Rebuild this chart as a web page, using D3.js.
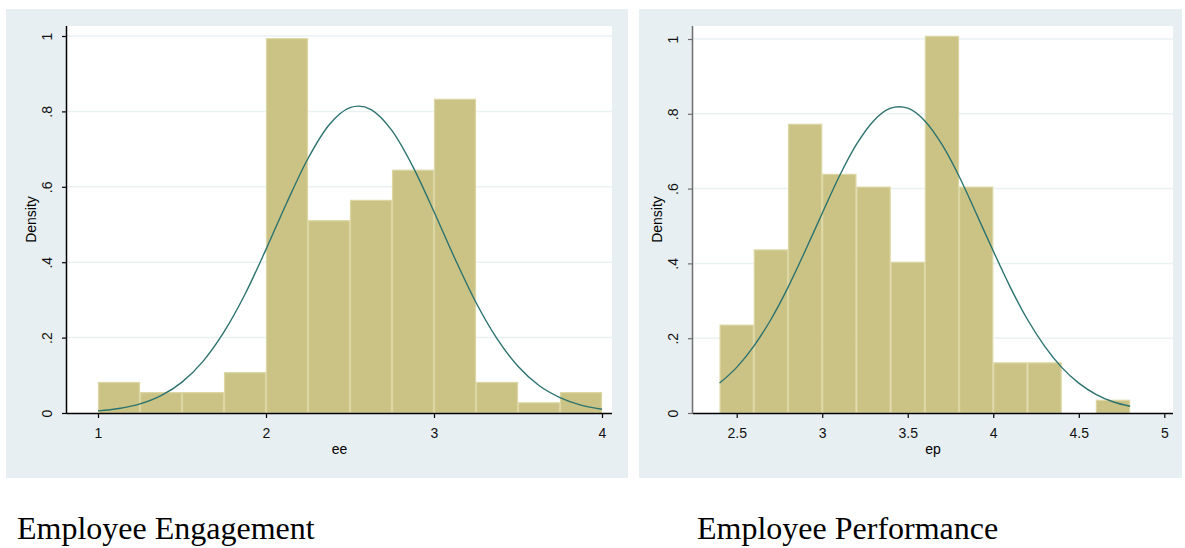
<!DOCTYPE html>
<html>
<head>
<meta charset="utf-8">
<script src="https://cdn.jsdelivr.net/npm/d3@7"></script>
<style>
  body { margin: 0; background: #fff; }
  .tick text { font-family: "Liberation Sans", Arial, sans-serif; font-size: 14px; fill: #111; }
</style>
</head>
<body>
<div class="hists"></div>
<script>
// --- data: Employee Engagement (ee), bin width .25 ---
var eeBins = [1, 1.25, 1.5, 1.75, 2, 2.25, 2.5, 2.75, 3, 3.25, 3.5, 3.75, 4];
var eeDensity = [0.081, 0.054, 0.054, 0.107, 0.993, 0.510, 0.564, 0.644, 0.832, 0.081, 0.027, 0.054];
// normal overlay
var eeCurveX = [1, 1.125, 1.25, 1.375, 1.5, 1.625, 1.75, 1.875, 2, 2.125, 2.25, 2.375, 2.5, 2.55, 2.625, 2.75, 2.875, 3, 3.125, 3.25, 3.375, 3.5, 3.625, 3.75, 3.875, 4];
var eeCurveY = [0.0055, 0.012, 0.024, 0.046, 0.082, 0.137, 0.215, 0.315, 0.434, 0.559, 0.675, 0.764, 0.810, 0.814, 0.805, 0.749, 0.653, 0.534, 0.409, 0.293, 0.197, 0.124, 0.073, 0.041, 0.021, 0.010];
var eeTicks = [1, 2, 3, 4];

// --- data: Employee Performance (ep), bin width .2 ---
var epBins = [2.4, 2.6, 2.8, 3.0, 3.2, 3.4, 3.6, 3.8, 4.0, 4.2, 4.4, 4.6, 4.8];
var epDensity = [0.235, 0.436, 0.772, 0.638, 0.604, 0.403, 1.007, 0.604, 0.134, 0.134, 0, 0.034];
var epCurveX = [2.4, 2.5, 2.6, 2.7, 2.8, 2.9, 3.0, 3.1, 3.2, 3.3, 3.4, 3.45, 3.5, 3.6, 3.7, 3.8, 3.9, 4.0, 4.1, 4.2, 4.3, 4.4, 4.5, 4.6, 4.7, 4.8];
var epCurveY = [0.080, 0.122, 0.179, 0.250, 0.336, 0.433, 0.534, 0.633, 0.718, 0.781, 0.815, 0.819, 0.815, 0.781, 0.718, 0.633, 0.534, 0.433, 0.336, 0.250, 0.179, 0.122, 0.080, 0.050, 0.030, 0.018];
var epTicks = [2.5, 3, 3.5, 4, 4.5, 5];

var yTicks = [0, 0.2, 0.4, 0.6, 0.8, 1];
var yTickLabels = ["0", ".2", ".4", ".6", ".8", "1"];

var Width = 1185, Height = 548;

var svg = d3.select(".hists").append("svg")
    .attr("width", Width)
    .attr("height", Height);

// draw one stata-style histogram panel
function drawPanel(p) {
  // grey-blue graph region
  svg.append("rect")
    .attr("x", p.bg[0]).attr("y", 9)
    .attr("width", p.bg[1] - p.bg[0]).attr("height", 469)
    .attr("fill", "#e8eff2");

  // white plot region
  svg.append("rect")
    .attr("x", p.left).attr("y", 26)
    .attr("width", p.right - p.left).attr("height", 413 - 26)
    .attr("fill", "#fff");

  var x = d3.scaleLinear().domain(p.xDomain).range(p.xRange);
  var y = d3.scaleLinear().domain([0, 1]).range([413, p.yTop]);

  var g = svg.append("g");

  // gridlines
  g.selectAll(".grid").data(yTicks.slice(1))
    .enter().append("line")
    .attr("x1", p.left).attr("x2", p.right)
    .attr("y1", d => y(d)).attr("y2", d => y(d))
    .attr("stroke", "#eaf1f3").attr("stroke-width", 1.5);

  // bars
  var bars = p.density.map(function(d, i) { return {x0: p.bins[i], x1: p.bins[i + 1], v: d}; })
    .filter(d => d.v > 0);
  g.selectAll(".bar").data(bars)
    .enter().append("rect")
    .attr("x", d => x(d.x0) + 0.5)
    .attr("y", d => y(d.v))
    .attr("width", d => x(d.x1) - x(d.x0) - 1)
    .attr("height", d => 413 - y(d.v))
    .attr("fill", "#cbc385")
    .attr("stroke", "#dcd6a4")
    .attr("stroke-width", 1.2);

  // normal density line
  var line = d3.line()
    .curve(d3.curveMonotoneX)
    .x(d => x(d[0]))
    .y(d => y(d[1]));
  g.append("path")
    .datum(p.curveX.map((d, i) => [d, p.curveY[i]]))
    .attr("fill", "none")
    .attr("stroke", "#2c736f")
    .attr("stroke-width", 1.4)
    .attr("d", line);

  // x axis
  var xAxis = g.append("g")
    .attr("transform", "translate(0,413)")
    .call(d3.axisBottom(x).tickValues(p.xTicks).tickSize(5).tickPadding(10)
      .tickFormat(d => String(d)));
  xAxis.select(".domain").attr("d", "M" + p.left + ",0.5H" + p.right).attr("stroke", "#000").attr("stroke-width", 1.5);
  xAxis.selectAll(".tick line").attr("stroke", "#000").attr("stroke-width", 1.2);

  // y axis
  var yAxis = g.append("g")
    .attr("transform", "translate(" + p.left + ",0)")
    .call(d3.axisLeft(y).tickValues(yTicks).tickSize(5)
      .tickFormat((d, i) => yTickLabels[i]));
  yAxis.select(".domain").attr("d", "M-0.5,26V413").attr("stroke", p.yAxisColor).attr("stroke-width", 1.5);
  yAxis.selectAll(".tick line").attr("stroke", p.yAxisColor).attr("stroke-width", 1.2);
  yAxis.selectAll(".tick text")
    .attr("x", null).attr("dy", "0.35em")
    .attr("text-anchor", "middle")
    .attr("transform", "translate(-20,0) rotate(-90)");

  // axis titles
  svg.append("text")
    .attr("x", (p.left + p.right) / 2).attr("y", 454)
    .attr("text-anchor", "middle")
    .style("font-family", "Liberation Sans, Arial, sans-serif")
    .style("font-size", "14px")
    .text(p.xLabel);

  svg.append("text")
    .attr("transform", "translate(" + (p.left - 30) + ",219.5) rotate(-90)")
    .attr("dy", "-0.1em")
    .attr("text-anchor", "middle")
    .style("font-family", "Liberation Sans, Arial, sans-serif")
    .style("font-size", "14px")
    .text("Density");

  // caption under the panel
  svg.append("text")
    .attr("x", p.captionX).attr("y", 539)
    .style("font-family", "Liberation Serif, Times New Roman, serif")
    .style("font-size", "32px")
    .text(p.caption);
}

drawPanel({
  bg: [6, 628], left: 67, right: 612, yTop: 36,
  xDomain: [1, 4], xRange: [98, 602],
  bins: eeBins, density: eeDensity, curveX: eeCurveX, curveY: eeCurveY,
  xTicks: eeTicks, xLabel: "ee", yAxisColor: "#000",
  caption: "Employee Engagement", captionX: 17
});

drawPanel({
  bg: [639, 1182], left: 693, right: 1173, yTop: 39,
  xDomain: [2.5, 5], xRange: [736.7, 1164.3],
  bins: epBins, density: epDensity, curveX: epCurveX, curveY: epCurveY,
  xTicks: epTicks, xLabel: "ep", yAxisColor: "#6e6e6e",
  caption: "Employee Performance", captionX: 697
});
</script>
</body>
</html>
